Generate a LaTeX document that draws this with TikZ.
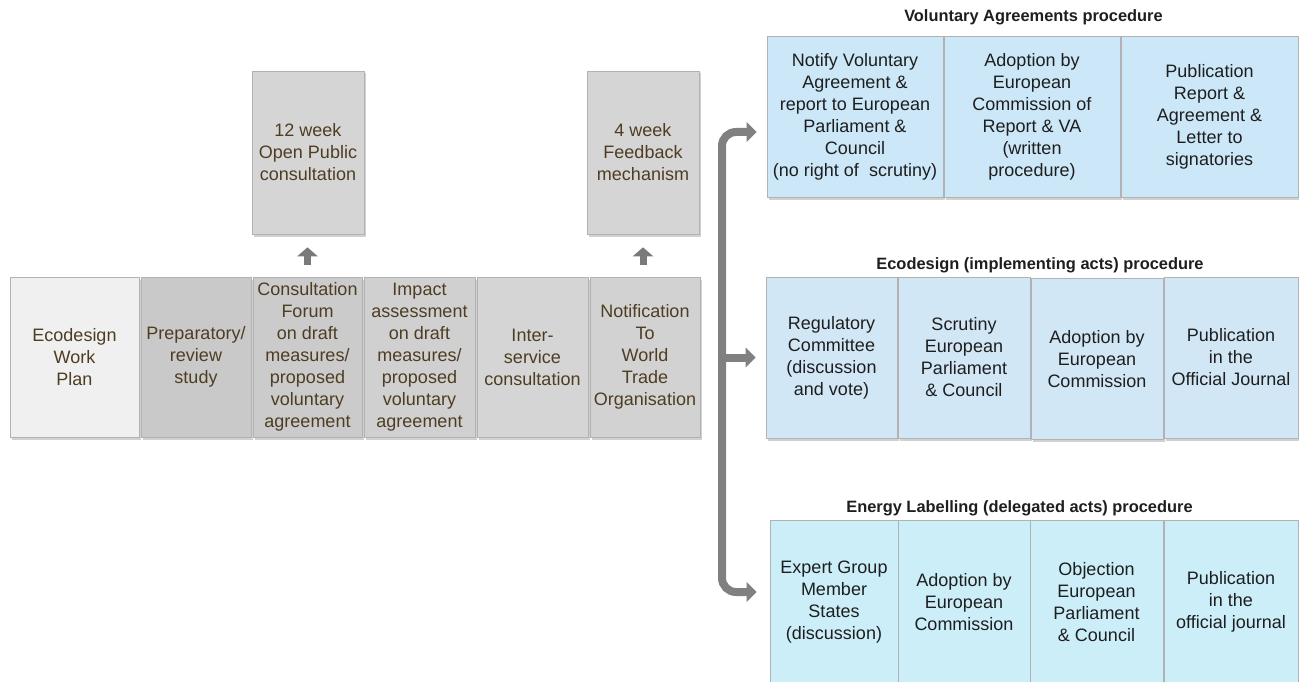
\documentclass[tikz,border=0pt]{standalone}
\usepackage{fontspec}
\setmainfont{Liberation Sans}
\usetikzlibrary{arrows.meta,shadows}
\definecolor{brn}{HTML}{4E3D22}
\definecolor{txt}{HTML}{1E1E1E}
\definecolor{planfill}{HTML}{F0F0F0}
\definecolor{gA}{HTML}{C9C9C9}
\definecolor{gB}{HTML}{CBCBCB}
\definecolor{gC}{HTML}{D0D0D0}
\definecolor{gD}{HTML}{D5D5D5}
\definecolor{gE}{HTML}{D2D2D2}
\definecolor{bVA}{HTML}{CCE8F8}
\definecolor{bEC}{HTML}{D2E7F6}
\definecolor{bEN}{HTML}{CCEEF9}
\definecolor{conncol}{HTML}{808080}
\tikzset{Tbig/.tip={Triangle[length=10pt,width=19pt]}}
\begin{document}
\begin{tikzpicture}[x=1pt,y=-1pt,
  base/.style={rectangle, inner sep=0pt, align=center,
    draw=black!30, line width=0.6pt,
    drop shadow={shadow xshift=2pt,shadow yshift=-2.5pt,opacity=.3,fill=black!60},
    font=\fontsize{18}{22}\selectfont},
  gbox/.style={base, text=brn},
  bbox/.style={base, text=txt},
  ttl/.style={font=\bfseries\fontsize{16.4}{19}\selectfont, text=txt, inner sep=0pt},
  uparrow/.style={draw=black!52, line width=7pt,
    -{Triangle[length=9pt,width=20pt]}, shorten <=12pt, shorten >=13pt},
  conn/.style={draw=conncol, line width=8pt}
]
\useasboundingbox (0,0) rectangle (1299,682);

% ---- left process row ----
\node[gbox, fill=planfill, minimum width=129pt, minimum height=160pt] (plan) at (74.5,357) {Ecodesign\\Work\\Plan};
\node[gbox, fill=gA, minimum width=110pt, minimum height=160pt] (prep) at (196,357) {Preparatory/\\review\\study};
\node[gbox, fill=gB, minimum width=109pt, minimum height=160pt] (forum) at (307.5,357) {Consultation\\Forum\\on draft\\measures/\\proposed\\voluntary\\agreement};
\node[gbox, fill=gC, minimum width=111pt, minimum height=160pt] (impact) at (419.5,357) {Impact\\assessment\\on draft\\measures/\\proposed\\voluntary\\agreement};
\node[gbox, fill=gD, minimum width=111pt, minimum height=160pt] (inter) at (532.5,357) {Inter-\\service\\consultation};
\node[gbox, fill=gE, minimum width=110pt, minimum height=160pt] (wto) at (645,357) {Notification\\To\\World\\Trade\\Organisation};

% ---- consultation boxes above ----
\node[gbox, fill=gD, minimum width=112pt, minimum height=163pt] (pub12) at (308,152.5) {12 week\\Open Public\\consultation};
\node[gbox, fill=gD, minimum width=112pt, minimum height=163pt] (fb4) at (643,152.5) {4 week\\Feedback\\mechanism};

\draw[uparrow] (forum.north) -- (forum.north |- pub12.south);
\draw[uparrow] (fb4.south |- wto.north) -- (fb4.south);

% ---- Voluntary Agreements procedure ----
\node[ttl] (tva) at (1033.5,17) {Voluntary Agreements procedure};
\node[bbox, fill=bVA, minimum width=176pt, minimum height=161pt] (va1) at (855,116.5) {Notify Voluntary\\Agreement \&\\report to European\\Parliament \&\\Council\\(no right of~~scrutiny)};
\node[bbox, fill=bVA, minimum width=176pt, minimum height=161pt] (va2) at (1032,116.5) {Adoption by\\European\\Commission of\\Report \& VA\\(written\\procedure)};
\node[bbox, fill=bVA, minimum width=177pt, minimum height=161pt] (va3) at (1209.5,116.5) {Publication\\Report \&\\Agreement \&\\Letter to\\signatories};

% ---- Ecodesign procedure ----
\node[ttl] (teco) at (1040,265) {Ecodesign (implementing acts) procedure};
\node[bbox, fill=bEC, minimum width=131pt, minimum height=161pt] (eco1) at (831.5,357.5) {Regulatory\\Committee\\(discussion\\and vote)};
\node[bbox, fill=bEC, minimum width=132pt, minimum height=161pt] (eco2) at (964,357.5) {Scrutiny\\European\\Parliament\\\& Council};
\node[bbox, fill=bEC, minimum width=132pt, minimum height=161pt] (eco3) at (1097,359) {Adoption by\\European\\Commission};
\node[bbox, fill=bEC, minimum width=134pt, minimum height=161pt] (eco4) at (1231,357.5) {Publication\\in the\\Official Journal};

% ---- Energy Labelling procedure ----
\node[ttl] (ten) at (1019.5,508) {Energy Labelling (delegated acts) procedure};
\node[bbox, fill=bEN, minimum width=128pt, minimum height=164pt] (en1) at (834,602) {Expert Group\\Member\\States\\(discussion)};
\node[bbox, fill=bEN, minimum width=132pt, minimum height=164pt] (en2) at (964,602) {Adoption by\\European\\Commission};
\node[bbox, fill=bEN, minimum width=133pt, minimum height=164pt] (en3) at (1096.5,602) {Objection\\European\\Parliament\\\& Council};
\node[bbox, fill=bEN, minimum width=134pt, minimum height=164pt] (en4) at (1231,602) {Publication\\in the\\official journal};

% ---- branching connector ----
\coordinate (ttop) at (722,132);
\coordinate (tbot) at (722,592);
\draw[conn, rounded corners=14pt, Tbig-Tbig, shorten <=10pt, shorten >=13pt]
  (ttop -| va1.west) -- (ttop) -- (tbot) -- (tbot -| en1.west);
\draw[conn, -Tbig, shorten >=10pt] (ttop |- eco1.west) -- (eco1.west);
\end{tikzpicture}
\end{document}
